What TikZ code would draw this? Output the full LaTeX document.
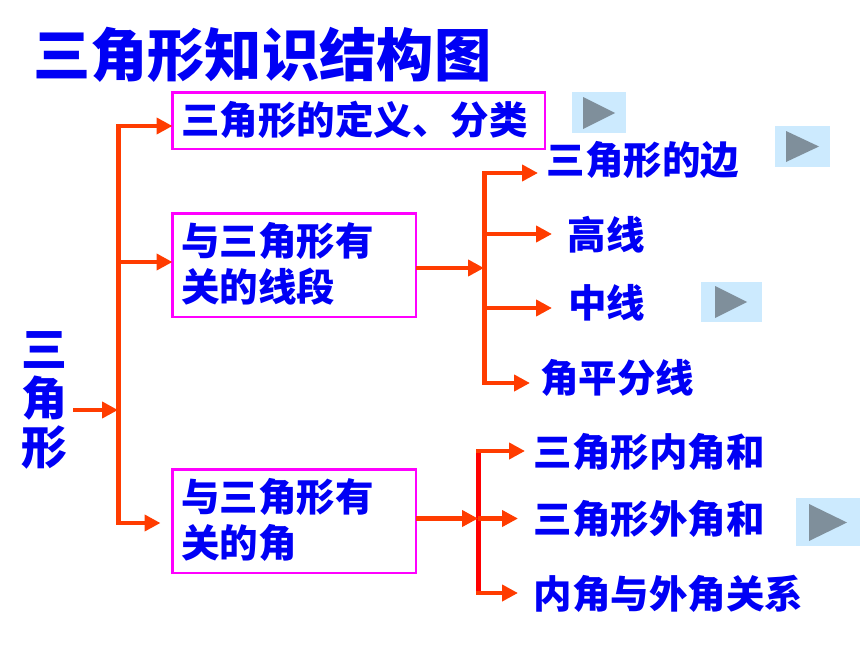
\documentclass[tikz,border=0pt]{standalone}
\usepackage{fontspec}
\setmainfont{Noto Sans CJK SC}
\usetikzlibrary{arrows.meta,calc}
\definecolor{txtblue}{RGB}{0,0,245}
\definecolor{boxpink}{RGB}{255,0,255}
\definecolor{linkor}{RGB}{255,60,0}
\definecolor{linkred}{RGB}{255,0,0}
\definecolor{btnbg}{RGB}{204,234,254}
\definecolor{btntri}{RGB}{127,143,155}
\tikzset{
  x=1pt,y=-1pt,
  lab/.style={inner sep=0pt,outer sep=0pt,anchor=west,text=txtblue,font=\fontsize{38.5}{46.5}\selectfont\bfseries},
  titlelab/.style={lab,font=\fontsize{57.3}{60}\selectfont\bfseries},
  sidelab/.style={inner sep=0pt,outer sep=0pt,text=txtblue,align=center,font=\fontsize{46}{49}\selectfont\bfseries},
  boxed/.style={draw=boxpink,line width=2.2pt,anchor=north west,inner sep=0pt,outer sep=0pt,minimum width=#1},
  trunk/.style={draw=linkor,line width=5pt,line join=miter},
  trunkred/.style={draw=linkred,line width=5pt},
  arrowline/.style={draw=linkor,line width=4.8pt,-{Triangle[length=16pt,width=16pt]}},
  btn/.style={fill=btnbg,draw=none,inner sep=0pt,outer sep=0pt,anchor=north west},
  btnmark/.style={fill=btntri,draw=none}
}
\begin{document}
\begin{tikzpicture}
\useasboundingbox[fill=white] (0,0) rectangle (860,645);
% title
\node[titlelab] (title) at (33,55) {三角形知识结构图};
% side label
\node[sidelab] (side) at (44,400) {三\\角\\形};
% boxes
\node[boxed=372.5pt,minimum height=56.5pt] (b1) at (172.5,92.5) {};
\node[boxed=243.5pt,minimum height=103.5pt] (b2) at (172.5,213.5) {};
\node[boxed=243.5pt,minimum height=103.5pt] (b3) at (172.5,469.5) {};
\node[lab] (b1t) at (181,120) {三角形的定义、分类};
\node[lab,align=left] (b2t) at (181,264) {与三角形有\\关的线段};
\node[lab,align=left] (b3t) at (181,520) {与三角形有\\关的角};
% right labels
\node[lab] (l1) at (546.5,160) {三角形的边};
\node[lab] (l2) at (567.5,235) {高线};
\node[lab] (l3) at (568,303) {中线};
\node[lab] (l4) at (540,378) {角平分线};
\node[lab] (l5) at (533.5,452) {三角形内角和};
\node[lab] (l6) at (533.5,519) {三角形外角和};
\node[lab] (l7) at (533.5,594) {内角与外角关系};
% junctions
\coordinate (t1a) at (118,126);
\coordinate (t1b) at (118,262);
\coordinate (t1c) at (118,410);
\coordinate (t1d) at (118,523);
\coordinate (t2a) at (484,173);
\coordinate (t2b) at (484,234);
\coordinate (t2c) at (484,268);
\coordinate (t2d) at (484,308);
\coordinate (t2e) at (484,383);
\coordinate (t3a) at (478,451);
\coordinate (t3b) at (478,518.5);
\coordinate (t3c) at (478,593);
% trunks
\draw[trunk] (t1a) -- (t1d);
\draw[trunk] (t2a) -- (t2e);
\draw[trunkred] (t3a) -- (t3c);
% first level
\draw[arrowline] ($(t1a)+(-2,0)$) -- (t1a -| b1.west);
\draw[arrowline] (t1b) -- (t1b -| b2.west);
\draw[arrowline,shorten >=12pt] ($(t1d)+(-2,0)$) -- (t1d -| b3.west);
\draw[arrowline,shorten <=2pt] (side.east |- t1c) ++(4,0) -- (t1c);
% second level
\draw[arrowline] (b2.east |- t2c) -- (t2c);
\draw[arrowline,shorten >=8.5pt] ($(t2a)+(-2,0)$) -- (t2a -| l1.west);
\draw[arrowline,shorten >=15.5pt] (t2b) -- (t2b -| l2.west);
\draw[arrowline,shorten >=16pt] (t2d) -- (t2d -| l3.west);
\draw[arrowline,shorten >=10pt] ($(t2e)+(-2,0)$) -- (t2e -| l4.west);
% third level
\draw[arrowline] (b3.east |- t3b) -- (t3b);
\draw[arrowline,shorten >=8.5pt] ($(t3a)+(-2,0)$) -- (t3a -| l5.west);
\draw[arrowline,shorten >=15.5pt] (t3b) -- (t3b -| l6.west);
\draw[arrowline,shorten >=15.5pt] ($(t3c)+(-2,0)$) -- (t3c -| l7.west);
% buttons
\node[btn,minimum width=54pt,minimum height=41pt] (p1) at (572,92) {};
\fill[btnmark] (583,97) -- (615,113) -- (583,129) -- cycle;
\node[btn,minimum width=55pt,minimum height=41pt] (p2) at (775,126) {};
\fill[btnmark] (786,131) -- (819,146.5) -- (786,162) -- cycle;
\node[btn,minimum width=61pt,minimum height=40pt] (p3) at (701,282) {};
\fill[btnmark] (715,286) -- (747,302) -- (715,318) -- cycle;
\node[btn,minimum width=64pt,minimum height=48pt] (p4) at (796,498) {};
\fill[btnmark] (809,504) -- (847,522.5) -- (809,541) -- cycle;
\end{tikzpicture}
\end{document}
